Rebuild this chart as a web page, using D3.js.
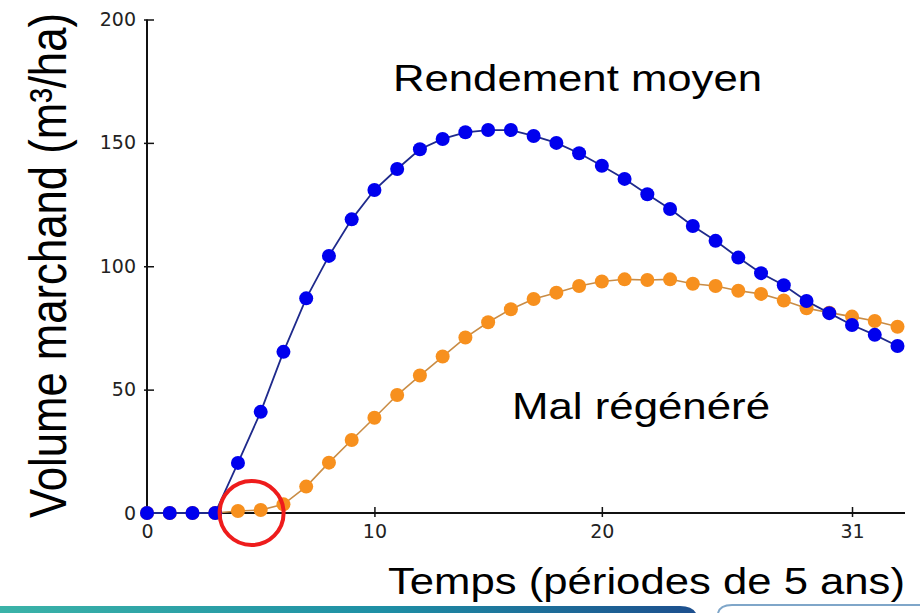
<!DOCTYPE html>
<html>
<head>
<meta charset="utf-8">
<script src="https://cdn.jsdelivr.net/npm/d3@7"></script>
<style>
  html, body { margin: 0; padding: 0; background: #fff; }
  svg { display: block; }
</style>
</head>
<body>
<svg id="chart" width="920" height="613"></svg>
<script>
// ---- data ----
const periods = d3.range(0, 34);
const rendementMoyen = [0, 0, 0, 0, 20.3, 41, 65.3, 87, 104.2, 119, 130.9, 139.4, 147.4, 151.6, 154.3, 155.2, 155.2, 152.8, 150, 145.8, 140.7, 135.4, 129.2, 123.2, 116.3, 110.3, 103.5, 97.2, 92.3, 85.9, 81, 76.2, 72.2, 67.7];
const malRegenere = [0, 0, 0, 0, 0.8, 1.2, 3.5, 10.7, 20.4, 29.6, 38.6, 47.8, 55.7, 63.4, 71.1, 77.3, 82.6, 86.7, 89.3, 92.0, 93.8, 94.7, 94.4, 94.7, 92.9, 92.0, 90.1, 88.8, 86.1, 83.0, 81.2, 79.6, 77.8, 75.5];
const xTicks = [0, 10, 20, 31];
const yTicks = [0, 50, 100, 150, 200];
const xMax = 33.33;
const yMax = 200;
const labels = {
  yTitle: "Volume marchand (m³/ha)",
  xTitle: "Temps (périodes de 5 ans)",
  serie1: "Rendement moyen",
  serie2: "Mal régénéré"
};
const highlightPeriod = 4.6;

// ---- layout ----
const svg = d3.select("#chart");
const x = d3.scaleLinear().domain([0, xMax]).range([147, 905]);
const y = d3.scaleLinear().domain([0, yMax]).range([513, 19.5]);

const tickFont = "Tahoma, 'DejaVu Sans', Verdana, sans-serif";
const textFont = "Arial, 'Liberation Sans', Helvetica, sans-serif";

// bottom decoration
const defs = svg.append("defs");
const grad = defs.append("linearGradient").attr("id", "barGrad")
  .attr("x1", "0%").attr("x2", "100%");
grad.append("stop").attr("offset", "0%").attr("stop-color", "#3bb3a8");
grad.append("stop").attr("offset", "55%").attr("stop-color", "#1e8fa5");
grad.append("stop").attr("offset", "100%").attr("stop-color", "#1d4f8e");
svg.append("path")
  .attr("d", "M0,606 L680,606 Q692,606 696,613 L0,613 Z")
  .attr("fill", "url(#barGrad)");
svg.append("path")
  .attr("d", "M718,613 Q720,605 732,605 L920,605")
  .attr("fill", "none").attr("stroke", "#7fa6c9").attr("stroke-width", 2);

// y axis
const yAxis = d3.axisLeft(y).tickValues(yTicks).tickSize(3).tickPadding(8);
const gy = svg.append("g").attr("transform", `translate(${x(0)},0)`).call(yAxis);
gy.select(".domain").attr("stroke", "#111").attr("stroke-width", 2)
  .attr("d", `M0,${y(yMax)}V${y(0)}`);
gy.selectAll(".tick line").attr("x2", 7).attr("x1", -3).attr("stroke", "#111").attr("stroke-width", 1.5);
gy.selectAll(".tick text").attr("font-family", tickFont).attr("font-size", 19)
  .attr("fill", "#222").attr("x", -11);

// x axis
const xAxis = d3.axisBottom(x).tickValues(xTicks).tickSize(4).tickPadding(8).tickFormat(d3.format("d"));
const gx = svg.append("g").attr("transform", `translate(0,${y(0)})`).call(xAxis);
gx.select(".domain").attr("stroke", "#111").attr("stroke-width", 2)
  .attr("d", `M${x(0)},0H${x(xMax)}`);
gx.selectAll(".tick line").attr("y1", -6).attr("y2", 4).attr("stroke", "#111").attr("stroke-width", 1.5);
gx.selectAll(".tick text").attr("font-family", tickFont).attr("font-size", 19)
  .attr("fill", "#222").attr("y", 12);
gx.selectAll(".tick").filter(d => d === 0).select("line").remove();

// lines & markers
const line = d3.line().x((d, i) => x(periods[i])).y(d => y(d));

svg.append("path").datum(malRegenere)
  .attr("d", line).attr("fill", "none")
  .attr("stroke", "#c98c45").attr("stroke-width", 1.6);
svg.append("g").selectAll("circle").data(malRegenere).join("circle")
  .attr("cx", (d, i) => x(periods[i])).attr("cy", d => y(d))
  .attr("r", 7).attr("fill", "#f7901e");

svg.append("path").datum(rendementMoyen)
  .attr("d", line).attr("fill", "none")
  .attr("stroke", "#1f2a8c").attr("stroke-width", 1.8);
svg.append("g").selectAll("circle").data(rendementMoyen).join("circle")
  .attr("cx", (d, i) => x(periods[i])).attr("cy", d => y(d))
  .attr("r", 7).attr("fill", "#0000ee");

// red highlight circle
svg.append("circle")
  .attr("cx", x(highlightPeriod)).attr("cy", y(0))
  .attr("r", 32).attr("fill", "none")
  .attr("stroke", "#ee1c1c").attr("stroke-width", 4);

// series labels
svg.append("text").attr("x", 393).attr("y", 91)
  .attr("font-family", textFont).attr("font-size", 37.5).attr("fill", "#000")
  .attr("textLength", 369).attr("lengthAdjust", "spacingAndGlyphs")
  .text(labels.serie1);
svg.append("text").attr("x", 512).attr("y", 419)
  .attr("font-family", textFont).attr("font-size", 37.5).attr("fill", "#000")
  .attr("textLength", 258).attr("lengthAdjust", "spacingAndGlyphs")
  .text(labels.serie2);

// axis titles
svg.append("text").attr("x", 388).attr("y", 594)
  .attr("font-family", textFont).attr("font-size", 37.5).attr("fill", "#000")
  .attr("textLength", 517).attr("lengthAdjust", "spacingAndGlyphs")
  .text(labels.xTitle);
svg.append("text")
  .attr("transform", "translate(66,518) scale(1.18,1) rotate(-90)")
  .attr("font-family", textFont).attr("font-size", 43.5).attr("fill", "#000")
  .attr("textLength", 505).attr("lengthAdjust", "spacingAndGlyphs")
  .text(labels.yTitle);
</script>
</body>
</html>
